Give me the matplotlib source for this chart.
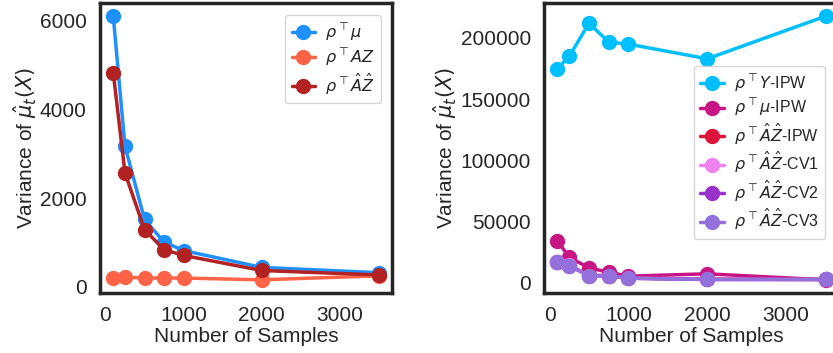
import matplotlib
matplotlib.use('Agg')
import matplotlib.pyplot as plt
import seaborn as sns

# sample sizes (x axis)
n_samples = [100, 250, 500, 750, 1000, 2000, 3500]

# left panel
var_rho_mu = [6100, 3170, 1520, 1010, 820, 440, 320]
var_rho_AZ = [200, 220, 200, 200, 200, 160, 250]
var_rho_AhatZhat = [4820, 2570, 1290, 840, 710, 370, 270]

# right panel
var_Y_ipw = [175000, 185000, 212000, 196700, 195000, 183000, 217800]
var_mu_ipw = [34300, 20800, 12200, 8600, 5400, 7300, 2400]
var_AZ_ipw = [17000, 14200, 6000, 5900, 3900, 2900, 2700]
var_AZ_cv1 = [16800, 14100, 5800, 5800, 3800, 2800, 2700]
var_AZ_cv2 = [16700, 14000, 5700, 5700, 3700, 2700, 2700]
var_AZ_cv3 = [16700, 14000, 5700, 5700, 3700, 2700, 2700]

sns.set_style('white')
plt.rcParams['font.family'] = ['Liberation Sans', 'DejaVu Sans']
plt.rcParams['mathtext.fontset'] = 'dejavusans'

fig = plt.figure(figsize=(8.33, 3.53), dpi=100)
ax1 = fig.add_axes([100 / 833, 60 / 353, 292 / 833, 290 / 353])
ax2 = fig.add_axes([544 / 833, 60 / 353, 295 / 833, 290 / 353])

style = dict(marker='o', markersize=10, linewidth=2.5)

ax1.plot(n_samples, var_rho_mu, color='dodgerblue', label=r'$\rho^{\top}\mu$', **style)
ax1.plot(n_samples, var_rho_AZ, color='tomato', label=r'$\rho^{\top}AZ$', **style)
ax1.plot(n_samples, var_rho_AhatZhat, color='firebrick', label=r'$\rho^{\top}\hat{A}\hat{Z}$', **style)

ax2.plot(n_samples, var_Y_ipw, color='deepskyblue', label=r'$\rho^{\top}Y$-IPW', **style)
ax2.plot(n_samples, var_mu_ipw, color='mediumvioletred', label=r'$\rho^{\top}\mu$-IPW', **style)
ax2.plot(n_samples, var_AZ_ipw, color='crimson', label=r'$\rho^{\top}\hat{A}\hat{Z}$-IPW', **style)
ax2.plot(n_samples, var_AZ_cv1, color='violet', label=r'$\rho^{\top}\hat{A}\hat{Z}$-CV1', **style)
ax2.plot(n_samples, var_AZ_cv2, color='darkorchid', label=r'$\rho^{\top}\hat{A}\hat{Z}$-CV2', **style)
ax2.plot(n_samples, var_AZ_cv3, color='mediumpurple', label=r'$\rho^{\top}\hat{A}\hat{Z}$-CV3', **style)

for ax in (ax1, ax2):
    ax.set_xticks([0, 1000, 2000, 3000])
    ax.tick_params(labelsize=15, colors='#262626', pad=6)
    ax.set_xlabel('Number of Samples', fontsize=15, color='#262626', labelpad=1)
    ax.set_ylabel(r'Variance of $\hat{\mu}_t(X)$', fontsize=15, color='#262626', labelpad=1)
    for sp in ax.spines.values():
        sp.set_color('#262626')
        sp.set_linewidth(2.5)

ax1.set_yticks([0, 2000, 4000, 6000])
ax2.set_yticks([0, 50000, 100000, 150000, 200000])

ax1.legend(loc='upper right', bbox_to_anchor=(0.99, 0.985), fontsize=11.5, frameon=True,
           borderpad=0.4, handlelength=1.5, labelspacing=0.25, handletextpad=0.6)
ax2.legend(loc='upper right', bbox_to_anchor=(0.98, 0.81), fontsize=11.5, frameon=True,
           borderpad=0.4, handlelength=1.5, labelspacing=0.22, handletextpad=0.6)

fig.savefig('out.png', dpi=100)
